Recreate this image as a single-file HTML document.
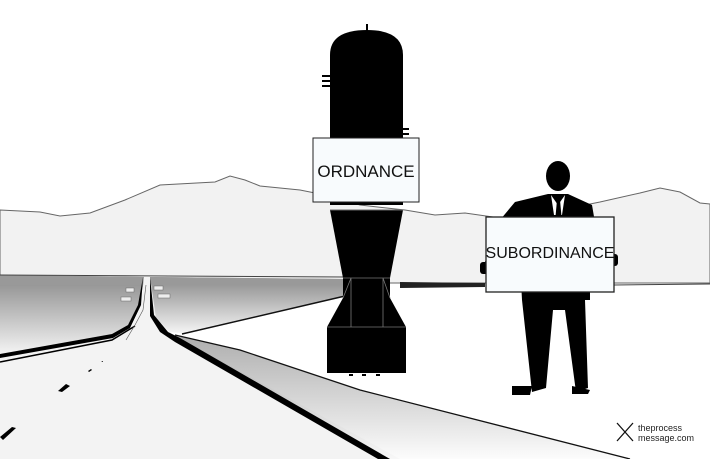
<!DOCTYPE html>
<html><head><style>body{margin:0;background:#fff}svg{display:block}</style></head><body>
<svg width="710" height="459" viewBox="0 0 710 459" xmlns="http://www.w3.org/2000/svg">
<defs>
<linearGradient id="g1" x1="0" y1="0" x2="0" y2="1"><stop offset="0" stop-color="#8a8a8a"/><stop offset="1" stop-color="#f4f4f4"/></linearGradient>
<linearGradient id="g2" x1="0" y1="0" x2="0" y2="1"><stop offset="0" stop-color="#777"/><stop offset="1" stop-color="#fafafa"/></linearGradient>
</defs>
<rect width="710" height="459" fill="#fff"/>
<!-- mountains -->
<path d="M0,210 L40,212 L60,216 L90,213 L125,200 L160,185 L215,182 L230,176 L245,180 L260,186 L300,190 L330,196 L360,205 L405,210 L435,215 L465,213 L500,218 L540,214 L600,202 L640,193 L660,188 L680,192 L700,203 L710,204 L710,283 L0,283 Z" fill="#f2f2f2" stroke="#666" stroke-width="1"/>
<!-- gray plains -->
<path d="M0,275 L145,277 L139,305 L128,325 L112,334 L0,354 Z" fill="url(#g1)"/>
<path d="M0,275 L145,277 L145,285 L0,285 Z" fill="#999"/>
<path d="M150,277 L345,279 L345,296 L182,333 L168,332 L154,315 Z" fill="url(#g1)"/>
<path d="M150,277 L345,279 L345,285 L152,285 Z" fill="#999"/>
<line x1="0" y1="275" x2="345" y2="277" stroke="#444" stroke-width="1"/>
<line x1="182" y1="334" x2="345" y2="296" stroke="#111" stroke-width="1.5"/>
<path d="M400,282 L485,283 L485,287 L400,288 Z" fill="#222"/>
<line x1="614" y1="285" x2="710" y2="284" stroke="#444" stroke-width="1"/>
<!-- road -->
<path d="M144,277 L150,277 L156,318 L172,334 L400,459 L0,459 L0,358 L113,338 L132,326 L141,305 Z" fill="#f3f3f3"/>
<!-- right shoulder -->
<path d="M175,335 L240,350 L360,390 L630,459 L390,459 L180,340 Z" fill="url(#g2)" opacity="0.6"/>
<path d="M175,335 L240,350 L360,390 L630,459" fill="none" stroke="#111" stroke-width="1.3"/>
<path d="M150,277 L154,315 L168,332 L180,338 L390,459 L378,459 L175,342 L160,332 L150,316 Z" fill="#000"/>
<!-- left edges -->
<path d="M143,277 L138,305 L128,325 L112,334 L0,354 L0,358 L113,338 L130,328 L141,305 Z" fill="#000"/>
<path d="M0,362 L112,340 L135,326" fill="none" stroke="#000" stroke-width="1.5"/>
<!-- dashes -->
<path d="M58,391 L66,384 L70,386 L62,392 Z" fill="#000"/>
<path d="M88,371 L91,369 L92,370 L89,372 Z" fill="#000"/>
<path d="M101,362 L103,361 L103,362 Z" fill="#000"/>
<path d="M0,437 L12,427 L16,428 L3,440 Z" fill="#000"/>
<path d="M146,285 L143,310 L135,325 L126,340" fill="none" stroke="#555" stroke-width="0.6"/>
<!-- signs -->
<g fill="#eee" stroke="#666" stroke-width="0.5">
<rect x="126" y="288" width="8" height="4"/><rect x="121" y="297" width="10" height="4"/>
<rect x="154" y="286" width="9" height="4"/><rect x="158" y="294" width="12" height="4"/>
</g>
<!-- bomb -->
<rect x="366" y="24" width="2" height="8" fill="#000"/>
<path d="M330,55 Q330,30 367,30 Q403,30 403,55 L403,205 L330,205 Z" fill="#000"/>
<rect x="322" y="75" width="10" height="2" fill="#000"/><rect x="322" y="80" width="10" height="2" fill="#000"/><rect x="322" y="85" width="10" height="2" fill="#000"/>
<rect x="401" y="128" width="8" height="2" fill="#000"/><rect x="401" y="133" width="8" height="2" fill="#000"/>
<path d="M330,210 L403,210 L390,278 L343,278 Z" fill="#000"/>
<line x1="330" y1="210" x2="403" y2="210" stroke="#666"/>
<path d="M343,278 L390,278 L390,298 L406,327 L406,373 L327,373 L327,327 L343,298 Z" fill="#000"/>
<path d="M343,278 L390,278 M351,278 L351,327 M383,278 L383,327 M327,327 L406,327 M343,298 L351,278 M390,298 L383,278" fill="none" stroke="#777" stroke-width="0.8"/>
<rect x="349" y="374" width="4" height="2" fill="#000"/><rect x="362" y="374" width="4" height="2" fill="#000"/><rect x="376" y="374" width="4" height="2" fill="#000"/>
<rect x="313" y="138" width="106" height="64" fill="#f8fbfd" stroke="#222" stroke-width="1"/>
<text x="366" y="177" font-family="Liberation Sans, sans-serif" font-size="17" text-anchor="middle" fill="#111">ORDNANCE</text>
<!-- person -->
<ellipse cx="558" cy="176" rx="12" ry="15" fill="#000"/>
<path d="M548,194 L568,194 L592,205 L598,240 L598,262 L590,262 L590,300 L585,300 L588,388 L576,392 L565,310 L553,310 L546,388 L532,392 L522,300 L520,262 L485,262 L500,220 L515,202 Z" fill="#000"/>
<path d="M551,195 L558,205 L565,195 L562,215 L554,215 Z" fill="#fff"/>
<path d="M557,200 L560,200 L562,222 L558,228 L555,222 Z" fill="#000"/>
<path d="M512,386 L532,386 L530,395 L512,395 Z M572,386 L590,390 L588,394 L572,394 Z" fill="#000"/>
<rect x="480" y="262" width="10" height="12" rx="3" fill="#000"/>
<rect x="610" y="254" width="8" height="12" rx="3" fill="#000"/>
<rect x="486" y="217" width="128" height="75" fill="#f8fbfd" stroke="#222" stroke-width="1.3"/>
<text x="550" y="258" font-family="Liberation Sans, sans-serif" font-size="16" text-anchor="middle" fill="#111">SUBORDINANCE</text>
<!-- logo -->
<path d="M617,423 L633,441 M633,423 L617,441" stroke="#111" stroke-width="1.3"/>
<text x="638" y="431" font-family="Liberation Sans, sans-serif" font-size="9" fill="#222">theprocess</text>
<text x="638" y="441" font-family="Liberation Sans, sans-serif" font-size="9" fill="#222">message.com</text>
</svg>
</body></html>
